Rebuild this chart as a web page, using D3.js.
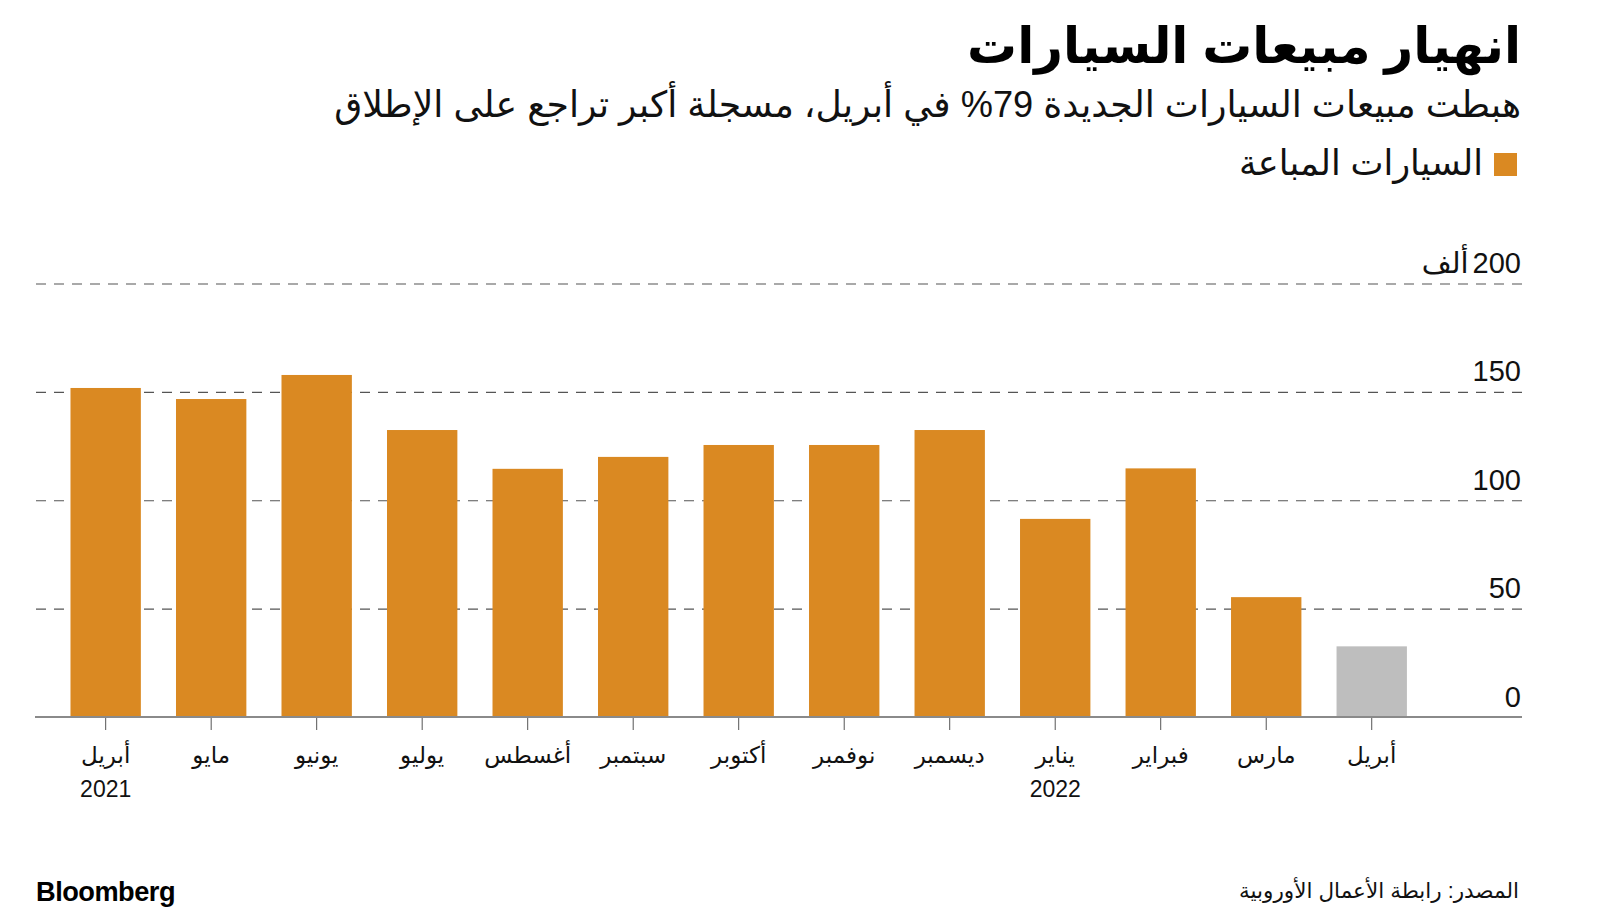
<!DOCTYPE html>
<html>
<head>
<meta charset="utf-8">
<script src="https://cdn.jsdelivr.net/npm/d3@7"></script>
<style>
  html, body { margin: 0; padding: 0; background: #fff; }
  svg { display: block; }
  text { font-family: "Liberation Sans", "DejaVu Sans", sans-serif; }
</style>
</head>
<body>
<svg id="chart" width="1600" height="922"></svg>
<script>
// ---- data ----
const months = ["أبريل","مايو","يونيو","يوليو","أغسطس","سبتمبر","أكتوبر","نوفمبر","ديسمبر","يناير","فبراير","مارس","أبريل"];
const years  = ["2021","","","","","","","","","2022","","",""];
const carsSold = [151.8,146.7,157.8,132.4,114.5,120.0,125.5,125.5,132.4,91.4,114.7,55.3,32.6]; // thousands
const yTicks = [0, 50, 100, 150, 200];
const yTickLabels = ["0","50","100","150","200 ألف"];

const titleText = "انهيار مبيعات السيارات";
const subtitleText = "هبطت مبيعات السيارات الجديدة 79% في أبريل، مسجلة أكبر تراجع على الإطلاق";
const legendText = "السيارات المباعة";
const sourceText = "المصدر: رابطة الأعمال الأوروبية";

// ---- styles ----
const ORANGE = "#DA8922";
const GRAY = "#BEBEBE";

const svg = d3.select("#chart");
const rightEdge = 1521;
const plotLeft = 35, plotRight = 1522;

function fitText(sel, targetWidth) {
  const node = sel.node();
  const fs = parseFloat(sel.attr("font-size"));
  const w = node.getComputedTextLength();
  if (w > 0) sel.attr("font-size", (fs * targetWidth / w).toFixed(2));
}

// Title
const title = svg.append("text")
  .attr("x", rightEdge).attr("y", 63)
  .attr("direction", "rtl").attr("text-anchor", "start")
  .attr("font-size", 50).attr("font-weight", "bold").attr("fill", "#000")
  .text(titleText);
fitText(title, 554);

// Subtitle
const sub = svg.append("text")
  .attr("x", rightEdge).attr("y", 117)
  .attr("direction", "rtl").attr("text-anchor", "start")
  .attr("font-size", 32).attr("fill", "#111")
  .text(subtitleText);
fitText(sub, 1187);

// Legend
svg.append("rect").attr("x", 1494).attr("y", 153).attr("width", 23).attr("height", 23).attr("fill", ORANGE);
const leg = svg.append("text")
  .attr("x", 1483).attr("y", 175)
  .attr("direction", "rtl").attr("text-anchor", "start")
  .attr("font-size", 30).attr("fill", "#111")
  .text(legendText);
fitText(leg, 244);

// Scales
const y = d3.scaleLinear().domain([0, 200]).range([717, 283.5]);
const x = d3.scaleBand()
  .domain(d3.range(months.length))
  .range([52.9, 1424.5])
  .paddingInner(0.333)
  .paddingOuter(0.1667);

// Grid + y labels
const yAxis = svg.append("g")
  .attr("transform", `translate(${plotRight},0)`)
  .call(d3.axisLeft(y).tickValues(yTicks).tickSize(plotRight - plotLeft)
        .tickFormat(() => ""));
yAxis.select(".domain").remove();
yAxis.selectAll(".tick line")
  .attr("stroke", "#555").attr("stroke-width", 1.2)
  .attr("stroke-dasharray", "10,8")
  .filter(d => d === 0).remove();
yAxis.selectAll(".tick text").remove();
yAxis.selectAll(".tick").each(function(d, i) {
  const g = d3.select(this);
  const parts = yTickLabels[i].split(" ");   // [number, unit?]
  let xr = -1;
  const num = g.append("text")
    .attr("x", xr).attr("dy", -11).attr("text-anchor", "end")
    .attr("font-size", 29).attr("fill", "#111")
    .text(parts[0]);
  if (parts[1]) {
    xr -= num.node().getComputedTextLength() + 4;
    g.append("text")
      .attr("x", xr).attr("dy", -11).attr("text-anchor", "end")
      .attr("font-size", 29).attr("fill", "#111")
      .text(parts[1]);
  }
});

// Bars
svg.append("g").selectAll("rect")
  .data(carsSold)
  .join("rect")
  .attr("x", (d, i) => x(i))
  .attr("width", x.bandwidth())
  .attr("y", d => y(d))
  .attr("height", d => y(0) - y(d))
  .attr("fill", (d, i) => i === carsSold.length - 1 ? GRAY : ORANGE);

// X axis
const xAxis = svg.append("g")
  .attr("transform", `translate(0,${y(0)})`)
  .call(d3.axisBottom(x).tickSize(13).tickPadding(17).tickFormat(i => months[i]));
xAxis.select(".domain").remove();
svg.append("line")
  .attr("x1", plotLeft).attr("x2", plotRight)
  .attr("y1", y(0)).attr("y2", y(0))
  .attr("stroke", "#8a8a8a").attr("stroke-width", 2);
xAxis.selectAll(".tick line").attr("stroke", "#555").attr("stroke-width", 1);
xAxis.selectAll(".tick text")
  .attr("font-size", 23).attr("fill", "#111")
  .attr("font-family", "'Liberation Sans', 'DejaVu Sans', sans-serif")
  .attr("direction", "rtl").attr("text-anchor", "middle")
  .attr("dy", "0.71em");
xAxis.selectAll(".tick").each(function(i) {
  if (years[i]) {
    d3.select(this).append("text")
      .attr("y", 80).attr("text-anchor", "middle")
      .attr("font-size", 23).attr("fill", "#111")
      .attr("font-family", "'Liberation Sans', 'DejaVu Sans', sans-serif")
      .text(years[i]);
  }
});

// Source
const src = svg.append("text")
  .attr("x", 1519).attr("y", 898)
  .attr("direction", "rtl").attr("text-anchor", "start")
  .attr("font-size", 21).attr("fill", "#111")
  .text(sourceText);
fitText(src, 280);

// Bloomberg logo text
const logo = svg.append("text")
  .attr("x", 36).attr("y", 901)
  .attr("font-size", 27).attr("font-weight", "bold").attr("fill", "#000")
  .attr("letter-spacing", -0.5)
  .text("Bloomberg");
fitText(logo, 139);
</script>
</body>
</html>
